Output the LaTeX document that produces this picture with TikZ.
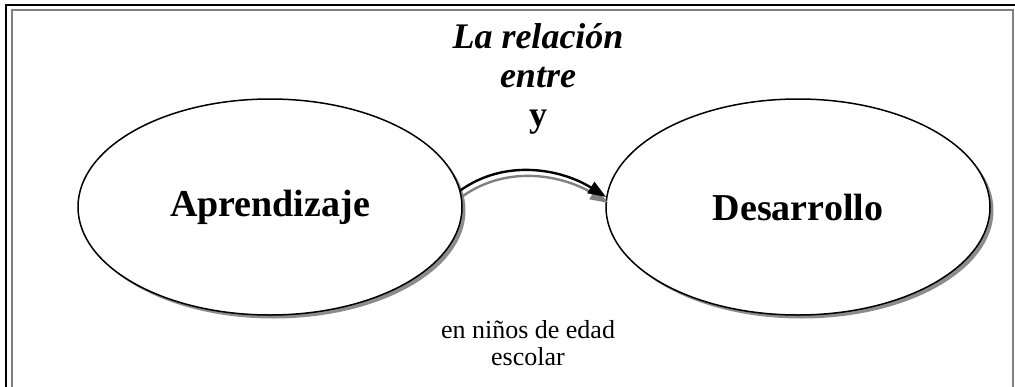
\documentclass[tikz,border=0pt]{standalone}
\usepackage{fontspec}
\setmainfont{Liberation Serif}
\usetikzlibrary{shapes,arrows,positioning,arrows.meta,shadows}

\begin{document}
\begin{tikzpicture}[
    % GLOBAL CFG
    x=1pt, y=-1pt,
    >=Triangle,
    % Styles
    idea/.style={% For the two big ellipses
        ellipse,
        draw,
        line width=1.5pt,
        fill=white,
        minimum width=384pt,
        minimum height=216pt,
        font=\fontsize{38}{40}\selectfont\bfseries,
        drop shadow={shadow xshift=3.5pt, shadow yshift=-3.5pt, fill=gray!90, opacity=1},
        },
    title/.style={% For the text on top
        align=center,
        font=\fontsize{36}{39}\selectfont\bfseries\itshape,
        },
    mylabel/.style={% The small text below
        align=center,
        font=\fontsize{26}{27}\selectfont,
        },
    ArrowC1/.style={% The curved link
        line width=2.4pt,
        -{Triangle[length=18pt,width=13pt]},
        },
    ]

%Start drawing the thing...
    % Draw the frame
    \clip (0,0) rectangle (1015,386);
    \draw [line width=2pt] (6,400) -- (6,5) -- (1030,5);
    \draw [line width=2pt, gray] (12,400) -- (12,10) -- (1013,10) -- (1013,400);

    % Draw the ellipses
    \node [idea] (apr) at (270,207) {Aprendizaje};
    \node [idea] (des) at (798,207) {Desarrollo};

    % Draw the texts
    \node [title] (tit) at (538,79) {La relación\\entre\\{\upshape y}};
    \node [mylabel] (ninos) at (528,343) {en niños de edad\\escolar};

% Connecting
    \draw [ArrowC1, gray, transform canvas={shift={(2,6)}}] (apr.5) .. controls +(45,-32) and +(-45,-28) .. (des.177);
    \draw [ArrowC1] (apr.5) .. controls +(45,-32) and +(-45,-28) .. (des.177);

\end{tikzpicture}
\end{document}
